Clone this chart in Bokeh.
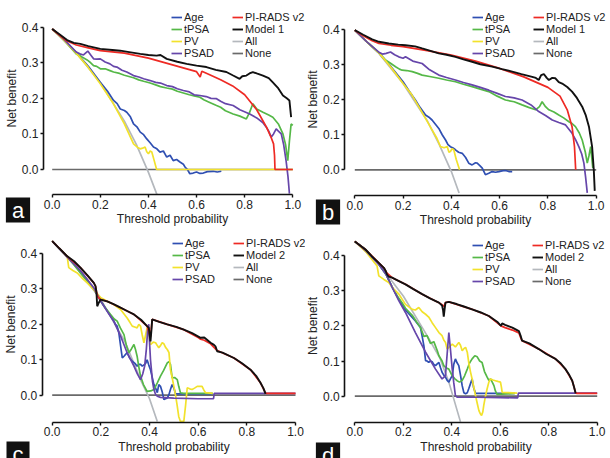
from bokeh.plotting import figure
from bokeh.models import Range1d, FixedTicker, PrintfTickFormatter, Legend, LegendItem, Label
from bokeh.layouts import column, row
from bokeh.core.properties import value
from bokeh.embed import file_html
from bokeh.resources import INLINE

FONT = "Liberation Sans"
X_TICKS = [0.0, 0.2, 0.4, 0.6, 0.8, 1.0]
Y_TICKS = [0.0, 0.1, 0.2, 0.3, 0.4]
COLORS = {"Age": "#2f4fb2", "tPSA": "#55b847", "PV": "#f2e22c", "PSAD": "#6646aa",
          "PI-RADS v2": "#ee2a24", "Model": "#111111", "All": "#b4b8bd", "None": "#6a6a6a"}

# ---------------- panel a ----------------
A_AGE_T = [0, 0.05, 0.10, 0.15, 0.20, 0.23, 0.255, 0.27, 0.283, 0.30, 0.31, 0.325, 0.338, 0.352, 0.366, 0.38, 0.393, 0.407, 0.421, 0.435, 0.448, 0.462, 0.476, 0.49, 0.503, 0.517, 0.531, 0.545, 0.552, 0.562, 0.572, 0.586, 0.60, 0.614, 0.628, 0.645, 0.669, 0.686, 0.703]
A_AGE_NB = [0.395, 0.365, 0.328, 0.29, 0.245, 0.22, 0.194, 0.185, 0.17, 0.166, 0.161, 0.148, 0.128, 0.12, 0.105, 0.098, 0.086, 0.075, 0.063, 0.058, 0.049, 0.052, 0.035, 0.04, 0.025, 0.028, 0.021, 0.015, 0.007, 0.0, -0.012, -0.01, -0.007, -0.011, -0.01, -0.006, -0.005, -0.007, -0.005]
A_TPSA_T = [0, 0.05, 0.10, 0.12, 0.145, 0.16, 0.172, 0.185, 0.20, 0.22, 0.24, 0.255, 0.28, 0.30, 0.338, 0.36, 0.38, 0.407, 0.43, 0.45, 0.476, 0.5, 0.52, 0.545, 0.57, 0.59, 0.614, 0.63, 0.65, 0.683, 0.70, 0.72, 0.752, 0.78, 0.807, 0.82, 0.834, 0.85, 0.876, 0.9, 0.917, 0.94, 0.959, 0.97, 0.979, 0.986, 0.993, 1.0]
A_TPSA_NB = [0.395, 0.363, 0.325, 0.318, 0.308, 0.3, 0.292, 0.29, 0.283, 0.283, 0.278, 0.274, 0.27, 0.265, 0.258, 0.252, 0.248, 0.243, 0.238, 0.233, 0.229, 0.226, 0.22, 0.215, 0.21, 0.207, 0.203, 0.196, 0.19, 0.18, 0.175, 0.165, 0.156, 0.15, 0.142, 0.16, 0.185, 0.17, 0.161, 0.153, 0.147, 0.128, 0.1, 0.07, 0.025, 0.08, 0.128, 0.124]
A_PV_T = [0, 0.05, 0.10, 0.15, 0.20, 0.25, 0.30, 0.338, 0.355, 0.366, 0.376, 0.386, 0.393, 0.40, 0.407, 0.414, 0.424, 0.434, 1.0]
A_PV_NB = [0.395, 0.363, 0.327, 0.287, 0.241, 0.19, 0.128, 0.072, 0.062, 0.058, 0.06, 0.063, 0.05, 0.044, 0.052, 0.049, 0.025, 0.0, 0.0]
A_PSAD_T = [0, 0.05, 0.10, 0.115, 0.13, 0.148, 0.16, 0.172, 0.185, 0.20, 0.22, 0.24, 0.255, 0.269, 0.29, 0.31, 0.338, 0.36, 0.38, 0.407, 0.43, 0.45, 0.476, 0.5, 0.52, 0.545, 0.57, 0.59, 0.614, 0.64, 0.66, 0.683, 0.70, 0.72, 0.752, 0.78, 0.821, 0.85, 0.875, 0.89, 0.90, 0.91, 0.92, 0.931, 0.94, 0.952, 0.962, 0.972, 0.98, 0.986]
A_PSAD_NB = [0.395, 0.365, 0.33, 0.325, 0.322, 0.333, 0.322, 0.311, 0.31, 0.311, 0.302, 0.297, 0.29, 0.288, 0.279, 0.274, 0.264, 0.26, 0.255, 0.25, 0.245, 0.243, 0.236, 0.233, 0.227, 0.222, 0.218, 0.21, 0.208, 0.205, 0.2, 0.199, 0.192, 0.185, 0.18, 0.168, 0.156, 0.145, 0.132, 0.119, 0.108, 0.091, 0.1, 0.114, 0.108, 0.1, 0.07, 0.025, -0.02, -0.068]
A_PIRADS_T = [0, 0.03, 0.06, 0.1, 0.15, 0.2, 0.3, 0.4, 0.5, 0.6, 0.615, 0.622, 0.65, 0.7, 0.75, 0.8, 0.85, 0.89, 0.91, 0.92, 0.924, 0.926, 1.0]
A_PIRADS_NB = [0.395, 0.378, 0.362, 0.35, 0.342, 0.334, 0.327, 0.313, 0.294, 0.275, 0.26, 0.276, 0.268, 0.252, 0.235, 0.21, 0.168, 0.12, 0.09, 0.072, 0.04, 0.0, 0.0]
A_MODEL_T = [0, 0.03, 0.062, 0.09, 0.117, 0.15, 0.2, 0.25, 0.283, 0.32, 0.366, 0.40, 0.434, 0.45, 0.476, 0.52, 0.559, 0.6, 0.641, 0.68, 0.724, 0.75, 0.779, 0.79, 0.807, 0.82, 0.834, 0.85, 0.876, 0.9, 0.917, 0.94, 0.959, 0.975, 0.986, 0.993]
A_MODEL_NB = [0.395, 0.38, 0.364, 0.356, 0.353, 0.347, 0.339, 0.336, 0.334, 0.33, 0.325, 0.322, 0.32, 0.322, 0.311, 0.303, 0.297, 0.292, 0.288, 0.28, 0.274, 0.265, 0.255, 0.262, 0.264, 0.27, 0.274, 0.27, 0.264, 0.257, 0.245, 0.228, 0.208, 0.2, 0.194, 0.147]
A_ALL_T = [0, 0.1, 0.2, 0.3, 0.35, 0.4, 0.435]
A_ALL_NB = [0.395, 0.328, 0.244, 0.136, 0.07, -0.008, -0.07]
A_NONE_T = [0, 1.0]
A_NONE_NB = [0, 0]

# ---------------- panel b ----------------
B_AGE_T = [0, 0.05, 0.102, 0.15, 0.2, 0.225, 0.251, 0.27, 0.293, 0.307, 0.32, 0.334, 0.348, 0.362, 0.376, 0.386, 0.396, 0.407, 0.417, 0.43, 0.445, 0.459, 0.472, 0.486, 0.5, 0.507, 0.518, 0.528, 0.541, 0.555, 0.569, 0.583, 0.597, 0.61, 0.624, 0.638, 0.652]
B_AGE_NB = [0.398, 0.365, 0.332, 0.294, 0.251, 0.225, 0.199, 0.178, 0.156, 0.15, 0.142, 0.13, 0.118, 0.1, 0.085, 0.072, 0.066, 0.062, 0.057, 0.05, 0.047, 0.035, 0.019, 0.014, 0.02, 0.019, 0.012, 0.005, -0.014, -0.01, -0.005, -0.007, -0.005, -0.003, -0.002, -0.005, -0.005]
B_TPSA_T = [0, 0.05, 0.102, 0.115, 0.127, 0.145, 0.169, 0.185, 0.196, 0.215, 0.238, 0.26, 0.279, 0.31, 0.348, 0.38, 0.417, 0.45, 0.486, 0.52, 0.555, 0.59, 0.624, 0.66, 0.693, 0.72, 0.749, 0.765, 0.776, 0.79, 0.804, 0.825, 0.845, 0.865, 0.887, 0.9, 0.914, 0.93, 0.942, 0.955, 0.963, 0.97, 0.977, 0.986]
B_TPSA_NB = [0.398, 0.365, 0.332, 0.322, 0.313, 0.305, 0.294, 0.287, 0.284, 0.283, 0.28, 0.275, 0.27, 0.266, 0.261, 0.256, 0.251, 0.244, 0.237, 0.23, 0.223, 0.21, 0.199, 0.194, 0.185, 0.178, 0.171, 0.18, 0.194, 0.18, 0.171, 0.165, 0.156, 0.148, 0.137, 0.132, 0.123, 0.105, 0.085, 0.05, 0.019, 0.04, 0.066, 0.005]
B_PV_T = [0, 0.05, 0.102, 0.15, 0.2, 0.235, 0.265, 0.29, 0.32, 0.34, 0.355, 0.37, 0.383, 0.39, 0.396, 0.403, 0.41, 0.42, 0.434]
B_PV_NB = [0.398, 0.365, 0.332, 0.292, 0.246, 0.215, 0.18, 0.15, 0.114, 0.09, 0.066, 0.063, 0.066, 0.05, 0.052, 0.06, 0.057, 0.03, 0.0]
B_PSAD_T = [0, 0.05, 0.102, 0.115, 0.13, 0.148, 0.165, 0.182, 0.2, 0.21, 0.24, 0.279, 0.31, 0.348, 0.38, 0.417, 0.45, 0.486, 0.52, 0.555, 0.59, 0.624, 0.66, 0.693, 0.73, 0.762, 0.79, 0.818, 0.845, 0.873, 0.9, 0.915, 0.928, 0.94, 0.949, 0.956, 0.963]
B_PSAD_NB = [0.398, 0.365, 0.334, 0.33, 0.332, 0.336, 0.328, 0.322, 0.318, 0.322, 0.31, 0.303, 0.285, 0.27, 0.263, 0.256, 0.249, 0.242, 0.235, 0.227, 0.218, 0.209, 0.205, 0.199, 0.185, 0.166, 0.155, 0.142, 0.135, 0.128, 0.104, 0.085, 0.066, 0.045, 0.019, -0.02, -0.066]
B_PIRADS_T = [0, 0.035, 0.072, 0.1, 0.15, 0.2, 0.3, 0.4, 0.5, 0.6, 0.7, 0.75, 0.8, 0.85, 0.88, 0.9, 0.91, 0.915]
B_PIRADS_NB = [0.398, 0.382, 0.368, 0.36, 0.355, 0.351, 0.34, 0.327, 0.31, 0.289, 0.265, 0.25, 0.235, 0.21, 0.171, 0.123, 0.066, 0.0]
B_MODEL_T = [0, 0.035, 0.072, 0.1, 0.141, 0.18, 0.21, 0.25, 0.279, 0.31, 0.348, 0.38, 0.417, 0.45, 0.486, 0.52, 0.569, 0.61, 0.652, 0.69, 0.735, 0.75, 0.762, 0.772, 0.783, 0.795, 0.804, 0.818, 0.831, 0.845, 0.859, 0.88, 0.9, 0.92, 0.942, 0.957, 0.97, 0.983, 0.99, 0.994]
B_MODEL_NB = [0.398, 0.385, 0.372, 0.365, 0.36, 0.357, 0.355, 0.352, 0.346, 0.34, 0.332, 0.328, 0.322, 0.315, 0.308, 0.301, 0.294, 0.287, 0.28, 0.273, 0.265, 0.262, 0.256, 0.27, 0.273, 0.262, 0.256, 0.262, 0.261, 0.25, 0.246, 0.236, 0.223, 0.205, 0.18, 0.155, 0.123, 0.066, 0.0, -0.06]
B_ALL_T = [0, 0.1, 0.2, 0.3, 0.35, 0.4, 0.432]
B_ALL_NB = [0.398, 0.332, 0.246, 0.14, 0.072, -0.005, -0.066]
B_NONE_T = [0, 1.0]
B_NONE_NB = [0, 0]

# ---------------- panel c ----------------
C_AGE_T = [0, 0.062, 0.116, 0.171, 0.2, 0.226, 0.253, 0.26, 0.267, 0.274, 0.281, 0.288, 0.295, 0.308, 0.318, 0.329, 0.34, 0.349, 0.356, 0.363, 0.37, 0.377, 0.384, 0.39, 0.397, 0.404, 0.41, 0.418, 0.425, 0.432, 0.438, 0.445, 0.452, 0.459, 0.466, 0.473, 0.48, 0.486, 0.493, 0.5, 0.507, 0.66]
C_AGE_NB = [0.435, 0.392, 0.35, 0.3, 0.265, 0.238, 0.21, 0.2, 0.195, 0.176, 0.14, 0.105, 0.11, 0.12, 0.105, 0.096, 0.09, 0.082, 0.087, 0.087, 0.082, 0.085, 0.09, 0.1, 0.085, 0.072, 0.054, 0.03, 0.02, 0.007, 0.03, 0.025, 0.01, -0.012, -0.01, -0.008, 0.002, 0.016, 0.03, 0.02, 0.004, 0.004]
C_TPSA_T = [0, 0.062, 0.116, 0.171, 0.2, 0.22, 0.24, 0.255, 0.267, 0.28, 0.295, 0.305, 0.315, 0.325, 0.336, 0.342, 0.349, 0.356, 0.363, 0.375, 0.39, 0.405, 0.418, 0.432, 0.445, 0.458, 0.473, 0.48, 0.486, 0.493, 0.503, 0.514, 0.52, 0.527, 0.54, 0.66]
C_TPSA_NB = [0.435, 0.392, 0.345, 0.3, 0.265, 0.245, 0.228, 0.215, 0.209, 0.19, 0.171, 0.14, 0.12, 0.13, 0.143, 0.13, 0.11, 0.08, 0.054, 0.03, 0.011, 0.012, 0.016, 0.035, 0.054, 0.07, 0.091, 0.095, 0.087, 0.049, 0.05, 0.044, 0.025, 0.007, 0.005, 0.005]
C_PV_T = [0, 0.03, 0.062, 0.068, 0.085, 0.103, 0.124, 0.144, 0.171, 0.2, 0.226, 0.253, 0.281, 0.308, 0.32, 0.329, 0.342, 0.349, 0.356, 0.363, 0.37, 0.377, 0.384, 0.39, 0.397, 0.404, 0.415, 0.425, 0.432, 0.438, 0.445, 0.452, 0.459, 0.466, 0.473, 0.48, 0.486, 0.493, 0.5, 0.507, 0.514, 0.52, 0.527, 0.541, 0.548, 0.555, 0.565, 0.575, 0.585, 0.596, 0.606, 0.616, 0.623, 0.63, 0.66]
C_PV_NB = [0.435, 0.414, 0.39, 0.36, 0.352, 0.345, 0.33, 0.317, 0.298, 0.275, 0.265, 0.256, 0.242, 0.218, 0.205, 0.195, 0.192, 0.19, 0.2, 0.195, 0.17, 0.148, 0.17, 0.19, 0.175, 0.143, 0.15, 0.148, 0.14, 0.134, 0.14, 0.148, 0.145, 0.135, 0.129, 0.12, 0.072, 0.05, 0.025, 0.0, -0.031, -0.06, -0.074, -0.074, -0.03, 0.021, 0.018, 0.016, 0.02, 0.025, 0.025, 0.025, 0.015, 0.007, 0.005]
C_PSAD_T = [0, 0.062, 0.116, 0.171, 0.2, 0.226, 0.253, 0.281, 0.308, 0.336, 0.35, 0.363, 0.372, 0.38, 0.387, 0.393, 0.397, 0.4, 0.404, 0.408, 0.412, 0.418, 0.425, 0.432, 0.445, 0.5, 0.6, 0.663, 0.666, 1.0]
C_PSAD_NB = [0.435, 0.39, 0.352, 0.303, 0.265, 0.237, 0.209, 0.167, 0.12, 0.082, 0.06, 0.044, 0.06, 0.082, 0.13, 0.19, 0.2, 0.15, 0.1, 0.07, 0.04, 0.016, 0.002, -0.003, -0.006, -0.008, -0.01, -0.01, 0.005, 0.005]
C_PIRADS_T = [0, 0.062, 0.116, 0.171, 0.178, 0.185, 0.199, 0.226, 0.281, 0.336, 0.39, 0.404, 0.411, 0.473, 0.541, 0.6, 0.61, 0.625, 0.651, 0.665, 0.678, 0.747, 0.815, 0.856, 0.877, 0.88, 1.0]
C_PIRADS_NB = [0.435, 0.392, 0.36, 0.317, 0.308, 0.28, 0.27, 0.265, 0.247, 0.228, 0.195, 0.165, 0.214, 0.2, 0.185, 0.163, 0.158, 0.155, 0.145, 0.135, 0.126, 0.105, 0.072, 0.035, 0.006, 0.005, 0.005]
C_MODEL_T = [0, 0.03, 0.062, 0.09, 0.116, 0.145, 0.171, 0.178, 0.182, 0.185, 0.192, 0.199, 0.226, 0.25, 0.281, 0.31, 0.336, 0.365, 0.39, 0.397, 0.404, 0.408, 0.411, 0.44, 0.473, 0.51, 0.541, 0.575, 0.61, 0.625, 0.651, 0.665, 0.671, 0.678, 0.7, 0.747, 0.78, 0.815, 0.84, 0.856, 0.868, 0.877]
C_MODEL_NB = [0.435, 0.414, 0.392, 0.378, 0.36, 0.338, 0.317, 0.308, 0.29, 0.251, 0.262, 0.27, 0.265, 0.258, 0.247, 0.237, 0.228, 0.213, 0.195, 0.19, 0.152, 0.185, 0.214, 0.207, 0.2, 0.193, 0.185, 0.175, 0.162, 0.163, 0.148, 0.142, 0.138, 0.124, 0.12, 0.105, 0.09, 0.072, 0.053, 0.035, 0.02, 0.004]
C_ALL_T = [0, 0.1, 0.2, 0.3, 0.363, 0.4, 0.432]
C_ALL_NB = [0.435, 0.36, 0.27, 0.15, 0.044, -0.01, -0.074]
C_NONE_T = [0, 1.0]
C_NONE_NB = [0, 0]

# ---------------- panel d ----------------
D_AGE_T = [0, 0.044, 0.099, 0.13, 0.154, 0.182, 0.209, 0.25, 0.271, 0.278, 0.285, 0.292, 0.298, 0.305, 0.312, 0.319, 0.326, 0.333, 0.34, 0.347, 0.354, 0.36, 0.367, 0.374, 0.381, 0.388, 0.395, 0.402, 0.408, 0.415, 0.422, 0.429, 0.436, 0.443, 0.45, 0.457, 0.464, 0.47, 0.477, 0.484, 0.49, 0.498, 0.66]
D_AGE_NB = [0.44, 0.417, 0.375, 0.345, 0.31, 0.275, 0.245, 0.214, 0.195, 0.17, 0.143, 0.101, 0.1, 0.096, 0.1, 0.098, 0.09, 0.087, 0.092, 0.096, 0.08, 0.068, 0.06, 0.054, 0.045, 0.04, 0.05, 0.058, 0.09, 0.106, 0.095, 0.087, 0.06, 0.03, 0.01, 0.007, 0.01, 0.021, 0.035, 0.049, 0.025, 0.008, 0.008]
D_TPSA_T = [0, 0.044, 0.099, 0.13, 0.154, 0.175, 0.195, 0.209, 0.237, 0.257, 0.271, 0.285, 0.298, 0.312, 0.326, 0.34, 0.347, 0.36, 0.367, 0.378, 0.388, 0.402, 0.412, 0.422, 0.432, 0.443, 0.453, 0.464, 0.474, 0.484, 0.495, 0.505, 0.515, 0.525, 0.535, 0.546, 0.553, 0.56, 0.567, 0.574, 0.58, 0.587, 0.66]
D_TPSA_NB = [0.44, 0.417, 0.375, 0.345, 0.31, 0.285, 0.266, 0.25, 0.23, 0.209, 0.195, 0.17, 0.172, 0.15, 0.155, 0.13, 0.115, 0.1, 0.087, 0.08, 0.077, 0.058, 0.05, 0.044, 0.04, 0.045, 0.058, 0.077, 0.095, 0.106, 0.115, 0.112, 0.1, 0.096, 0.07, 0.054, 0.045, 0.049, 0.04, 0.03, 0.015, 0.005, 0.008]
D_PV_T = [0, 0.044, 0.092, 0.099, 0.12, 0.14, 0.16, 0.182, 0.209, 0.237, 0.25, 0.264, 0.278, 0.292, 0.305, 0.319, 0.333, 0.347, 0.36, 0.367, 0.374, 0.381, 0.39, 0.402, 0.415, 0.429, 0.436, 0.443, 0.45, 0.457, 0.464, 0.47, 0.477, 0.484, 0.491, 0.498, 0.505, 0.512, 0.518, 0.523, 0.528, 0.532, 0.539, 0.546, 0.553, 0.56, 0.57, 0.58, 0.59, 0.601, 0.605, 0.608, 0.67]
D_PV_NB = [0.44, 0.412, 0.37, 0.342, 0.332, 0.323, 0.305, 0.29, 0.261, 0.247, 0.245, 0.252, 0.24, 0.233, 0.225, 0.209, 0.195, 0.181, 0.172, 0.16, 0.153, 0.134, 0.14, 0.148, 0.14, 0.153, 0.145, 0.129, 0.135, 0.139, 0.125, 0.096, 0.07, 0.049, 0.025, 0.002, -0.02, -0.041, -0.05, -0.055, -0.045, -0.026, 0.0, 0.021, 0.04, 0.049, 0.046, 0.044, 0.042, 0.04, 0.025, 0.011, 0.009]
D_PSAD_T = [0, 0.044, 0.099, 0.13, 0.154, 0.182, 0.209, 0.25, 0.292, 0.333, 0.36, 0.374, 0.381, 0.388, 0.395, 0.402, 0.408, 0.415, 0.422, 0.5, 0.6, 0.672, 0.675, 1.0]
D_PSAD_NB = [0.44, 0.415, 0.375, 0.345, 0.31, 0.271, 0.238, 0.181, 0.125, 0.077, 0.049, 0.058, 0.12, 0.181, 0.13, 0.077, 0.04, 0.002, -0.003, -0.003, -0.004, -0.005, 0.009, 0.009]
D_PIRADS_T = [0, 0.044, 0.099, 0.12, 0.133, 0.154, 0.209, 0.278, 0.347, 0.36, 0.367, 0.374, 0.388, 0.484, 0.553, 0.603, 0.62, 0.65, 0.677, 0.685, 0.69, 0.759, 0.828, 0.869, 0.897, 0.911, 0.915, 1.0]
D_PIRADS_NB = [0.44, 0.417, 0.379, 0.365, 0.35, 0.337, 0.318, 0.29, 0.266, 0.26, 0.255, 0.266, 0.268, 0.247, 0.228, 0.2, 0.195, 0.188, 0.18, 0.165, 0.158, 0.134, 0.106, 0.077, 0.044, 0.01, 0.008, 0.008]
D_MODEL_T = [0, 0.044, 0.07, 0.099, 0.12, 0.128, 0.133, 0.14, 0.154, 0.18, 0.209, 0.24, 0.278, 0.31, 0.347, 0.36, 0.364, 0.367, 0.371, 0.374, 0.388, 0.42, 0.45, 0.484, 0.52, 0.553, 0.59, 0.603, 0.608, 0.62, 0.65, 0.677, 0.685, 0.69, 0.72, 0.759, 0.79, 0.828, 0.85, 0.869, 0.885, 0.897, 0.905, 0.911]
D_MODEL_NB = [0.44, 0.417, 0.398, 0.379, 0.365, 0.355, 0.346, 0.34, 0.337, 0.328, 0.318, 0.305, 0.29, 0.278, 0.266, 0.258, 0.245, 0.226, 0.25, 0.266, 0.268, 0.262, 0.255, 0.247, 0.238, 0.228, 0.21, 0.2, 0.207, 0.203, 0.195, 0.185, 0.17, 0.158, 0.15, 0.134, 0.12, 0.106, 0.093, 0.077, 0.06, 0.044, 0.025, 0.008]
D_ALL_T = [0, 0.1, 0.2, 0.3, 0.35, 0.388, 0.436]
D_ALL_NB = [0.44, 0.375, 0.285, 0.17, 0.11, 0.04, -0.073]
D_NONE_T = [0, 1.0]
D_NONE_NB = [0, 0]

# Panel geometry in pixels inside each panel canvas (frame = whole canvas):
# x0/x1: pixel of threshold 0 and 1; y0/y4: pixel of net benefit 0.0 and 0.4;
# yaxis_px / xaxis_px: pixel position of the detached axis lines.
PANELS = [
    dict(letter="a", model="Model 1", w=305, h=229,
         data={"Age": (A_AGE_T, A_AGE_NB), "tPSA": (A_TPSA_T, A_TPSA_NB), "PV": (A_PV_T, A_PV_NB),
               "PSAD": (A_PSAD_T, A_PSAD_NB), "PI-RADS v2": (A_PIRADS_T, A_PIRADS_NB),
               "Model": (A_MODEL_T, A_MODEL_NB), "All": (A_ALL_T, A_ALL_NB), "None": (A_NONE_T, A_NONE_NB)},
         x0=51.7, x1=292.3, y0=169.0, y4=26.7, yaxis_px=43.0, xaxis_px=194.0,
         leg1=(171, 11), leg2=(232, 11), lab=(17.5, 209.5)),
    dict(letter="b", model="Model 1", w=305, h=229,
         data={"Age": (B_AGE_T, B_AGE_NB), "tPSA": (B_TPSA_T, B_TPSA_NB), "PV": (B_PV_T, B_PV_NB),
               "PSAD": (B_PSAD_T, B_PSAD_NB), "PI-RADS v2": (B_PIRADS_T, B_PIRADS_NB),
               "Model": (B_MODEL_T, B_MODEL_NB), "All": (B_ALL_T, B_ALL_NB), "None": (B_NONE_T, B_NONE_NB)},
         x0=49.3, x1=290.7, y0=169.3, y4=29.0, yaxis_px=39.3, xaxis_px=195.0,
         leg1=(167, 11), leg2=(228, 11), lab=(22.5, 211.5)),
    dict(letter="c", model="Model 2", w=305, h=229,
         data={"Age": (C_AGE_T, C_AGE_NB), "tPSA": (C_TPSA_T, C_TPSA_NB), "PV": (C_PV_T, C_PV_NB),
               "PSAD": (C_PSAD_T, C_PSAD_NB), "PI-RADS v2": (C_PIRADS_T, C_PIRADS_NB),
               "Model": (C_MODEL_T, C_MODEL_NB), "All": (C_ALL_T, C_ALL_NB), "None": (C_NONE_T, C_NONE_NB)},
         x0=51.7, x1=295.0, y0=165.7, y4=24.0, yaxis_px=41.7, xaxis_px=192.7,
         leg1=(172, 8), leg2=(233, 8), lab=(17.5, 224.5)),
    dict(letter="d", model="Model 2", w=305, h=229,
         data={"Age": (D_AGE_T, D_AGE_NB), "tPSA": (D_TPSA_T, D_TPSA_NB), "PV": (D_PV_T, D_PV_NB),
               "PSAD": (D_PSAD_T, D_PSAD_NB), "PI-RADS v2": (D_PIRADS_T, D_PIRADS_NB),
               "Model": (D_MODEL_T, D_MODEL_NB), "All": (D_ALL_T, D_ALL_NB), "None": (D_NONE_T, D_NONE_NB)},
         x0=49.3, x1=291.7, y0=166.7, y4=26.0, yaxis_px=39.3, xaxis_px=192.7,
         leg1=(167, 10), leg2=(227, 10), lab=(22.5, 225.5)),
]

DRAW_ORDER = ["None", "All", "Age", "tPSA", "PV", "PSAD", "PI-RADS v2", "Model"]
ROW_H = 12


def make_panel(cfg):
    w, h = cfg["w"], cfg["h"]
    sx = cfg["x1"] - cfg["x0"]
    sy = (cfg["y0"] - cfg["y4"]) / 0.4
    xr = Range1d(-cfg["x0"] / sx, (w - cfg["x0"]) / sx)
    yr = Range1d((cfg["y0"] - h) / sy, cfg["y0"] / sy)
    p = figure(width=w, height=h, x_range=xr, y_range=yr,
               output_backend="svg", toolbar_location=None,
               min_border_left=0, min_border_right=0, min_border_top=0, min_border_bottom=0)
    p.title.visible = False
    p.outline_line_color = None
    p.grid.visible = False
    p.background_fill_color = None
    p.border_fill_color = None

    p.xaxis.fixed_location = -(cfg["xaxis_px"] - cfg["y0"]) / sy
    p.yaxis.fixed_location = (cfg["yaxis_px"] - cfg["x0"]) / sx
    p.xaxis.bounds = (0, 1)
    p.yaxis.bounds = (0, 0.4)
    p.xaxis.ticker = FixedTicker(ticks=X_TICKS)
    p.yaxis.ticker = FixedTicker(ticks=Y_TICKS)
    p.xaxis.axis_label = "Threshold probability"
    p.yaxis.axis_label = "Net benefit"
    for ax in (p.xaxis, p.yaxis):
        ax.formatter = PrintfTickFormatter(format="%.1f")
        ax.major_tick_in = 0
        ax.major_tick_out = 3
        ax.minor_tick_in = 0
        ax.minor_tick_out = 0
        ax.axis_line_width = 1.6
        ax.major_tick_line_width = 1.4
        ax.axis_line_color = "#111111"
        ax.major_tick_line_color = "#111111"
        ax.major_label_text_font = FONT
        ax.major_label_text_font_size = "12px"
        ax.major_label_text_color = "#222222"
        ax.major_label_standoff = 2
        ax.axis_label_text_font = FONT
        ax.axis_label_text_font_size = "12px"
        ax.axis_label_text_font_style = "normal"
        ax.axis_label_text_color = "#222222"
        ax.axis_label_standoff = 0

    rends = {}
    for name in DRAW_ORDER:
        t, nb = cfg["data"][name]
        lw = 1.9 if name == "Model" else 1.7
        rends[name] = p.line(t, nb, line_color=COLORS[name], line_width=lw)

    legend_style = dict(orientation="vertical", background_fill_alpha=0, border_line_color=None,
                        padding=0, margin=0, spacing=0, glyph_width=11, glyph_height=ROW_H,
                        label_height=ROW_H, label_standoff=2, label_text_font=FONT,
                        label_text_font_size="11px", label_text_color="#222222")
    col1 = ["Age", "tPSA", "PV", "PSAD"]
    col2 = [("PI-RADS v2", "PI-RADS v2"), ("Model", cfg["model"]), ("All", "All"), ("None", "None")]
    items1 = [LegendItem(label=value(n), renderers=[rends[n]]) for n in col1]
    items2 = [LegendItem(label=value(lbl), renderers=[rends[n]]) for n, lbl in col2]
    l1x, l1y = cfg["leg1"]
    l2x, l2y = cfg["leg2"]
    leg_h = 4 * ROW_H
    p.add_layout(Legend(items=items1, location=(l1x, h - l1y - leg_h), **legend_style))
    p.add_layout(Legend(items=items2, location=(l2x, h - l2y - leg_h), **legend_style))

    lx, ly = cfg["lab"]
    p.add_layout(Label(x=lx, y=h - ly, x_units="screen", y_units="screen",
                       text=cfg["letter"], text_color="white", text_font=FONT, text_font_size="22px",
                       text_align="center", text_baseline="middle",
                       background_fill_color="#111111", padding=dict(left=6, right=6, top=0, bottom=0)))
    return p


figs = [make_panel(c) for c in PANELS]
layout = column(row(figs[0], figs[1]), row(figs[2], figs[3]))
open("out.html", "w").write(file_html(layout, INLINE))
